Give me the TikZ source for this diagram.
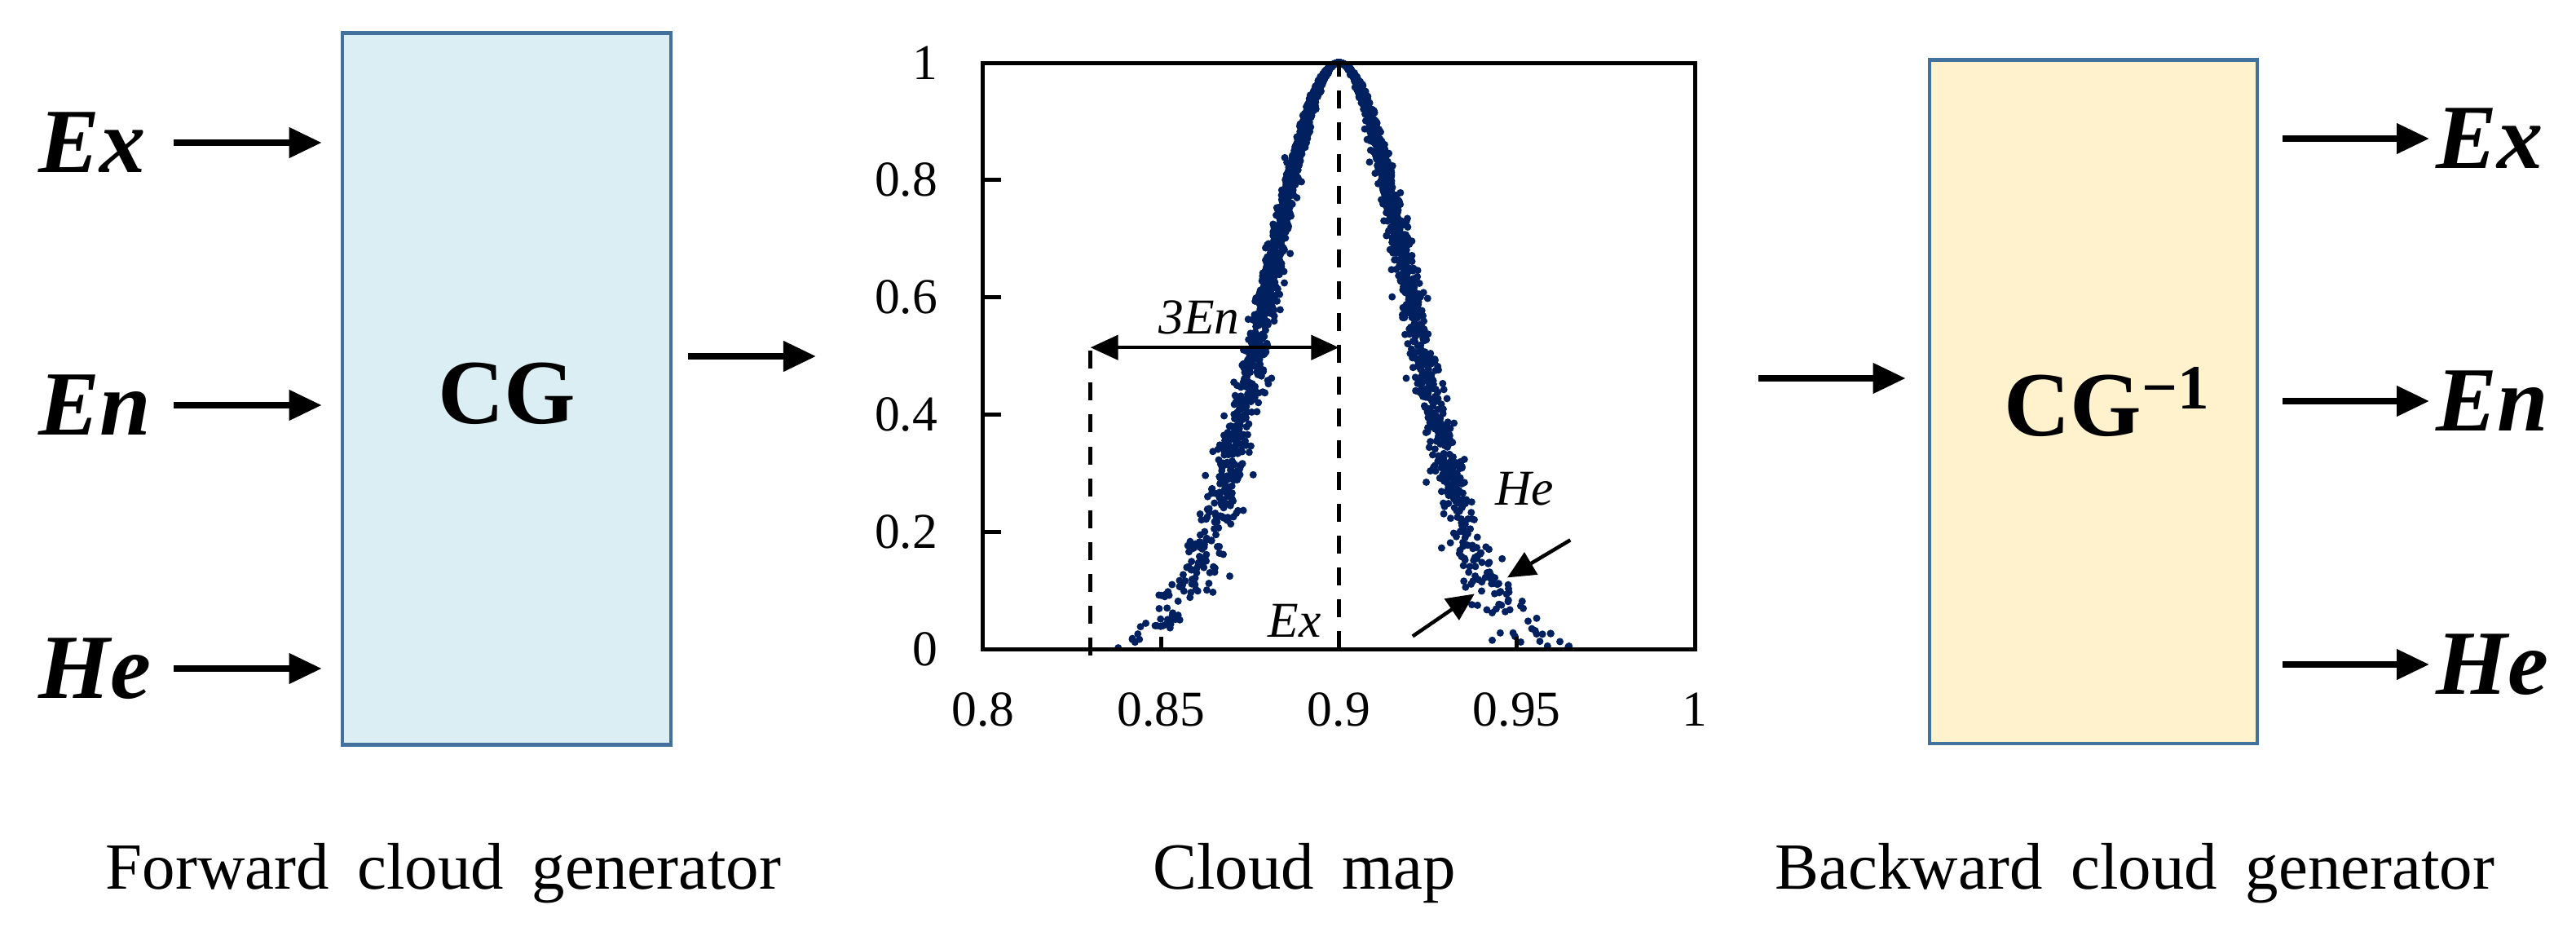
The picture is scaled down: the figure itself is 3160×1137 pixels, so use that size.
\documentclass[tikz,border=0pt]{standalone}
\usepackage{fontspec}
\setmainfont{Liberation Serif}
\usetikzlibrary{arrows.meta}
\definecolor{boxline}{RGB}{65,113,156}
\definecolor{cgfill}{RGB}{219,238,244}
\definecolor{icgfill}{RGB}{255,242,204}
\definecolor{dotc}{RGB}{0,32,96}
\newcommand\capgap{\hspace{0.43em}}
\begin{document}
\begin{tikzpicture}[x=0.01cm,y=-0.01cm,
  arr/.style={line width=0.075cm,-{Triangle[length=0.40cm,width=0.36cm]}},
  param/.style={font=\fontsize{32}{36}\selectfont\bfseries\itshape,inner sep=0},
  genbox/.style={draw=boxline,line width=0.045cm,inner sep=0},
  boxtext/.style={font=\fontsize{32}{36}\selectfont\bfseries,inner sep=0},
  capt/.style={font=\fontsize{23}{27}\selectfont,anchor=base,inner sep=0},
  ticklab/.style={font=\fontsize{17.5}{20}\selectfont,inner sep=0},
  ann/.style={font=\fontsize{17.5}{20}\selectfont\itshape,inner sep=0},
  plotframe/.style={line width=0.05cm},
  guide/.style={line width=0.05cm,dash pattern=on 0.22cm off 0.17cm},
  dimarr/.style={line width=0.045cm,{Triangle[length=0.34cm,width=0.30cm]}-{Triangle[length=0.34cm,width=0.30cm]}},
  smallarr/.style={line width=0.045cm,-{Triangle[length=0.34cm,width=0.31cm]}},
]
\useasboundingbox[fill=white] (0,0) rectangle (3160,1137);

% ---------- forward generator ----------
\node[genbox,fill=cgfill,minimum width=4.03cm,minimum height=8.72cm] (cg) at (621.5,477) {};
\node[boxtext,anchor=base] (cgt) at (622,520) {CG};

\coordinate (inStart) at (213,0);
\node[param,anchor=west] (inEx) at (47,175) {Ex};
\node[param,anchor=west] (inEn) at (47,497) {En};
\node[param,anchor=west] (inHe) at (47,820) {He};
\draw[arr,shorten >=0.23cm] (inEx -| inStart) -- (inEx -| cg.west);
\draw[arr,shorten >=0.23cm] (inEn -| inStart) -- (inEn -| cg.west);
\draw[arr,shorten >=0.23cm] (inHe -| inStart) -- (inHe -| cg.west);

\coordinate (mapIn) at (1001,437);
\draw[arr,shorten <=0.19cm] (cg.east |- mapIn) -- (mapIn);

% ---------- backward generator ----------
\node[genbox,fill=icgfill,minimum width=4.02cm,minimum height=8.38cm] (icg) at (2568,493) {};
\node[boxtext,anchor=base west] (icgt) at (2458,535) {CG\raisebox{0.3em}{\fontsize{22}{22}\selectfont\char"2212 1}};

\coordinate (mapOut) at (2157,464);
\draw[arr,shorten >=0.27cm] (mapOut) -- (mapOut -| icg.west);

\node[param,anchor=west] (outEx) at (2988,170) {Ex};
\node[param,anchor=west] (outEn) at (2988,492) {En};
\node[param,anchor=west] (outHe) at (2988,815) {He};
\draw[arr,shorten <=0.29cm,shorten >=0.08cm] (icg.east |- outEx) -- (outEx.west);
\draw[arr,shorten <=0.29cm,shorten >=0.08cm] (icg.east |- outEn) -- (outEn.west);
\draw[arr,shorten <=0.29cm,shorten >=0.08cm] (icg.east |- outHe) -- (outHe.west);

% ---------- captions ----------
\node[capt] (capF) at (544,1090) {Forward\capgap cloud\capgap generator};
\node[capt] (capC) at (1600,1090) {Cloud\capgap map};
\node[capt] (capB) at (2619,1090) {Backward\capgap cloud\capgap generator};

% ---------- cloud map ----------
\begin{scope}[xshift=-22.87cm,yshift=-7.96cm,x=43.65cm,y=7.19cm]
  \pgfmathsetseed{7}
  \foreach \i in {1,...,3000}{
    \pgfmathsetmacro\ga{sqrt(-2*ln(0.0001+0.9999*rnd))*cos(360*rnd)}
    \pgfmathsetmacro\gb{sqrt(-2*ln(0.0001+0.9999*rnd))*cos(360*rnd)}
    \pgfmathsetmacro\px{0.9+(0.02+0.0016*(\gb))*(\ga)}
    \pgfmathsetmacro\py{exp(-0.5*(\ga)*(\ga))}
    \fill[dotc] (\px,\py) circle[radius=0.045cm];
  }
  \coordinate (peak) at (0.9,1);
  \coordinate (peakBase) at (0.9,0);
  \coordinate (leftTop) at (0.8302,0.519);
  \coordinate (leftBase) at (0.8302,-0.01);
  \draw[guide] (peakBase) -- (peak);
  \draw[guide] (leftBase) -- (leftTop);
  \draw[plotframe] (0.8,0) rectangle (1,1);
  \foreach \u in {0.2,0.4,0.6,0.8} \draw[plotframe] (0.8,\u) -- ++(0.22cm,0);
  \foreach \v in {0.85,0.9,0.95} \draw[plotframe] (\v,0) -- ++(0,0.15cm);
  \foreach \u [count=\k] in {0,0.2,0.4,0.6,0.8,1}
    \node[ticklab,anchor=east] (ylab\k) at ([xshift=-0.55cm]0.8,\u) {\u};
  \foreach \v [count=\k] in {0.8,0.85,0.9,0.95,1}
    \node[ticklab,anchor=base] (xlab\k) at ([yshift=-0.94cm]\v,0) {\v};
  \coordinate (dimL) at (0.8302,0.5146);
  \coordinate (dimR) at (0.9,0.5146);
  \draw[dimarr] (dimL) -- (dimR);
  \node[ann] (lab3En) at (0.8607,0.566) {3En};
  \node[ann] (labEx) at (0.8875,0.049) {Ex};
  \node[ann] (labHe) at (0.9521,0.274) {He};
  \coordinate (heAs) at (0.9650,0.1864);
  \coordinate (heAe) at (0.9473,0.1224);
  \coordinate (heBs) at (0.9207,0.0223);
  \coordinate (heBe) at (0.9381,0.0946);
  \draw[smallarr] (heAs) -- (heAe);
  \draw[smallarr] (heBs) -- (heBe);
\end{scope}
\end{tikzpicture}
\end{document}
